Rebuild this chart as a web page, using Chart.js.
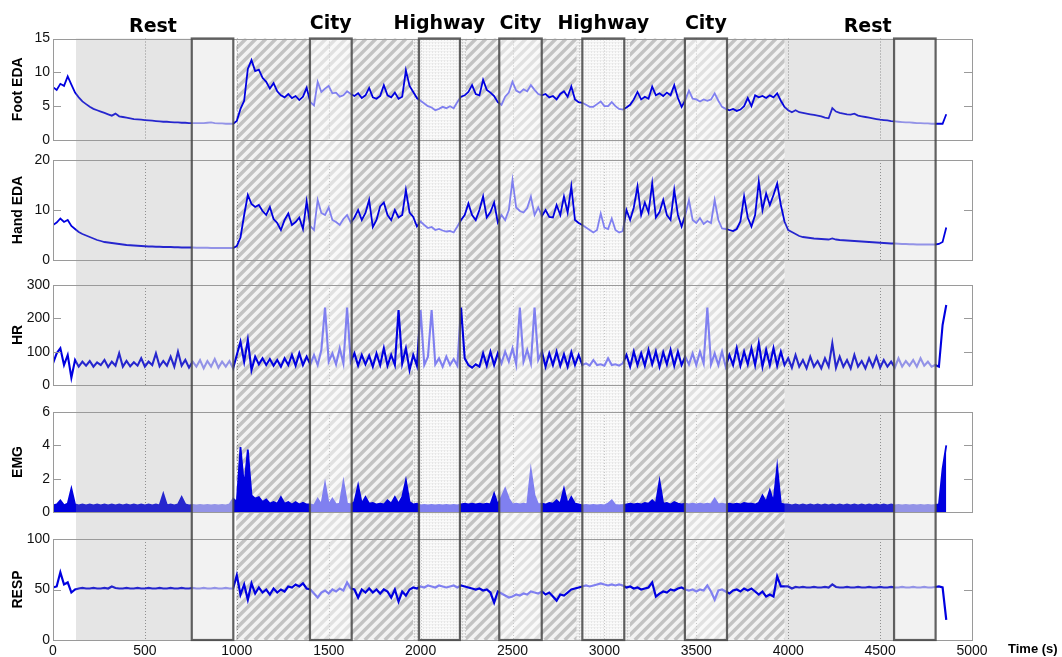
<!DOCTYPE html>
<html>
<head>
<meta charset="utf-8">
<script src="https://cdn.jsdelivr.net/npm/chart.js@4.4.1/dist/chart.umd.min.js"></script>
<style>
html,body{margin:0;padding:0;background:#ffffff;}
#wrap{position:relative;width:1062px;height:657px;}
</style>
</head>
<body>
<div id="wrap"><canvas id="chart" width="1062" height="657"></canvas></div>
<script>
const SAMPLE_STEP = 20; // seconds between samples

const footEDA = [
  7.8, 7.4, 8.3, 8.0, 9.4, 8.2, 7.0, 6.3, 5.7, 5.3,
  4.9, 4.6, 4.4, 4.2, 4.0, 3.8, 3.6, 3.9, 3.5, 3.4,
  3.3, 3.2, 3.1, 3.05, 3.0, 2.95, 2.9, 2.85, 2.8, 2.75,
  2.7, 2.7, 2.65, 2.6, 2.6, 2.55, 2.55, 2.5, 2.5, 2.5,
  2.5, 2.5, 2.55, 2.6, 2.5, 2.45, 2.45, 2.4, 2.4, 2.4,
  2.8, 4.6, 5.8, 10.5, 11.8, 10.2, 10.4, 9.2, 8.6, 7.6,
  8.4, 7.2, 6.6, 6.3, 6.8, 6.2, 6.5, 5.9, 6.4, 7.7,
  5.6, 5.1, 8.6, 7.1, 7.6, 8.0, 6.9, 7.0, 6.4, 6.6,
  7.2, 6.8, 6.5, 6.9, 6.2, 6.6, 7.7, 6.3, 6.1, 6.5,
  8.1, 6.6, 6.3, 7.0, 6.1, 6.4, 10.3, 8.0, 7.1, 6.2,
  5.8, 5.4, 5.0, 4.8, 4.4, 4.6, 4.9, 4.7, 5.0, 4.7,
  5.6, 6.4, 6.6, 7.1, 8.1, 6.8, 6.6, 8.9, 7.4, 7.0,
  6.5, 5.6, 5.2, 6.4, 7.0, 8.6, 7.3, 7.0, 7.5, 7.2,
  8.1, 7.4, 6.8, 6.6, 6.8, 6.3, 6.5, 6.0, 6.8, 7.2,
  6.4, 7.9, 6.0, 5.6, 5.5, 5.2, 4.9, 4.9, 5.3, 5.7,
  5.0, 5.0, 5.6, 5.0, 4.6, 4.5, 4.8, 5.2, 6.0, 7.1,
  6.0, 6.4, 6.1, 7.9, 6.6, 6.9, 6.5, 7.0, 6.6, 8.1,
  6.2, 4.9, 5.9, 7.3, 6.1, 6.0, 5.7, 6.0, 5.8, 6.0,
  6.9, 5.8, 4.9, 4.6, 4.4, 4.6, 4.3, 4.5, 5.0, 6.2,
  5.0, 6.6, 6.3, 6.5, 6.2, 6.6, 6.3, 6.9, 5.8, 4.9,
  4.4, 4.1, 4.4, 4.1, 4.0, 3.9, 3.8, 3.7, 3.6, 3.5,
  3.3, 3.2, 4.7, 4.2, 4.0, 3.9, 3.8, 3.75, 3.9, 3.6,
  3.5, 3.4, 3.3, 3.2, 3.1, 3.0, 2.95, 2.9, 2.8, 2.75,
  2.7, 2.65, 2.6, 2.6, 2.55, 2.5, 2.5, 2.45, 2.45, 2.4,
  2.4, 2.4, 2.4, 3.8
];

const handEDA = [
  7.0, 7.5, 8.3, 7.6, 8.0, 6.8, 6.2, 5.6, 5.2, 4.9,
  4.6, 4.3, 4.0, 3.8, 3.6, 3.5, 3.4, 3.3, 3.2, 3.1,
  3.0, 2.95, 2.9, 2.85, 2.8, 2.75, 2.7, 2.7, 2.65, 2.65,
  2.6, 2.6, 2.6, 2.55, 2.55, 2.5, 2.5, 2.5, 2.5, 2.45,
  2.45, 2.45, 2.45, 2.4, 2.4, 2.4, 2.4, 2.4, 2.4, 2.4,
  2.8, 4.5, 9.0, 13.0, 11.2, 10.6, 11.0, 9.8, 9.0, 10.6,
  8.2, 7.4, 6.0, 8.0, 9.3, 7.0, 7.6, 8.5, 6.2, 11.7,
  6.8, 6.0, 12.0, 9.4, 9.0, 10.5, 8.0, 7.6, 7.0, 8.2,
  9.0, 7.5, 8.5, 10.0, 8.0, 9.4, 12.0, 6.6, 8.0, 10.7,
  11.5, 9.0, 8.0, 10.0, 8.5, 9.0, 14.0, 9.5, 8.6, 6.7,
  7.7, 7.0, 6.4, 6.6, 6.0, 6.2, 5.9, 5.7, 5.8, 5.5,
  6.7, 8.0, 9.0, 11.3, 9.0, 8.0, 10.0, 12.7, 8.5, 9.6,
  11.5, 7.5, 9.0, 8.0, 10.0, 16.0, 10.5, 9.8, 9.5, 10.4,
  12.7, 9.0, 10.5, 8.8, 10.0, 8.6, 8.5, 11.0, 9.0, 12.7,
  9.5, 14.7, 8.0, 7.4, 7.0, 6.5, 6.0, 5.5, 6.0, 9.3,
  6.5, 6.2, 8.3, 6.0, 5.5, 5.8, 10.0, 8.0, 10.5, 14.7,
  9.0, 11.5, 9.5, 15.3, 8.5, 9.6, 12.0, 9.0, 8.0, 14.0,
  9.0, 6.7, 9.0, 12.0, 8.0, 7.4, 8.4, 7.2, 7.8, 7.4,
  12.0, 8.0, 6.3, 6.2, 6.0, 5.8, 6.2, 7.7, 12.7, 8.5,
  6.7, 9.0, 15.7, 10.0, 13.3, 11.0, 13.0, 15.3, 11.0, 7.7,
  6.0, 5.6, 5.2, 4.8, 4.6, 4.5, 4.4, 4.3, 4.25, 4.2,
  4.15, 4.1, 4.3, 4.1, 4.0, 3.95, 3.9, 3.85, 3.8, 3.75,
  3.7, 3.65, 3.6, 3.55, 3.5, 3.45, 3.4, 3.35, 3.3, 3.3,
  3.25, 3.2, 3.2, 3.15, 3.15, 3.1, 3.1, 3.1, 3.1, 3.1,
  3.1, 3.2, 3.6, 6.5
];

const heartRate = [
  65, 95, 110, 60, 90, 22, 75, 55, 70, 58,
  72, 55, 68, 60, 75, 54, 70, 58, 95, 55,
  72, 56, 68, 58, 80, 55, 70, 60, 95, 56,
  72, 58, 85, 55, 100, 58, 75, 52, 70, 55,
  75, 50, 72, 55, 78, 52, 70, 55, 72, 50,
  90, 130, 70, 135, 45, 85, 62, 80, 60, 78,
  58, 75, 55, 80, 60, 90, 58, 95, 60, 85,
  62, 90, 60, 105, 232, 70, 95, 62, 110, 65,
  232, 70, 95, 58, 90, 62, 88, 55, 95, 60,
  110, 58, 90, 60, 225, 65, 110, 45, 90, 58,
  225, 60, 85, 225, 62, 80, 55, 85, 60, 78,
  58, 232, 80, 60, 52, 62, 55, 95, 58, 100,
  60, 95, 65, 100, 70, 110, 62, 232, 70, 105,
  65, 232, 75, 100, 55, 95, 60, 100, 58, 92,
  55, 98, 60, 90, 60, 65, 58, 75, 60, 62,
  58, 80, 60, 62, 58, 65, 90, 55, 100, 60,
  95, 58, 105, 62, 100, 55, 98, 62, 105, 58,
  100, 60, 85, 62, 95, 60, 100, 65, 232, 62,
  95, 60, 100, 55, 90, 60, 110, 58, 100, 62,
  110, 60, 125, 55, 105, 60, 110, 58, 100, 60,
  80, 52, 90, 55, 75, 50, 85, 55, 72, 50,
  80, 55, 125, 52, 85, 55, 75, 50, 90, 55,
  72, 50, 80, 55, 85, 52, 75, 55, 70, 52,
  80, 55, 72, 58, 75, 55, 80, 58, 70, 55,
  60, 55, 180, 240
];

const emg = [
  0.4, 0.45, 0.7, 0.4, 0.5, 1.4, 0.45, 0.4, 0.45, 0.4,
  0.45, 0.4, 0.45, 0.4, 0.45, 0.4, 0.45, 0.4, 0.45, 0.4,
  0.45, 0.4, 0.45, 0.4, 0.45, 0.4, 0.45, 0.4, 0.45, 0.4,
  1.1, 0.4, 0.45, 0.4, 0.45, 0.9, 0.45, 0.4, 0.42, 0.4,
  0.42, 0.4, 0.42, 0.4, 0.42, 0.4, 0.42, 0.4, 0.45, 0.8,
  0.6, 3.9, 1.5, 3.75, 1.0, 0.8, 0.9, 0.6, 0.75, 0.5,
  0.6, 0.5, 0.9, 0.5, 0.6, 0.45, 0.6, 0.45, 0.55, 0.45,
  0.45, 0.4, 0.8, 0.45, 1.7, 0.45, 0.8, 0.45, 0.5, 1.8,
  0.5, 0.45, 0.6, 1.6, 0.5, 0.9, 0.5, 0.55, 0.45, 0.5,
  0.45, 0.7, 0.5, 0.9, 0.5, 0.9, 1.9, 0.6, 0.45, 0.5,
  0.4, 0.42, 0.4, 0.42, 0.4, 0.42, 0.4, 0.42, 0.4, 0.42,
  0.4, 0.45, 0.5, 0.45, 0.5, 0.45, 0.5, 0.45, 0.5, 0.45,
  1.1, 0.45, 0.9, 1.4, 0.8, 0.45, 0.5, 0.45, 0.5, 0.45,
  2.5, 1.0, 0.45, 0.5, 0.45, 0.55, 0.5, 0.7, 0.5, 1.4,
  0.5, 0.9, 0.5, 0.45, 0.4, 0.42, 0.4, 0.42, 0.4, 0.42,
  0.4, 0.5, 0.7, 0.42, 0.4, 0.42, 0.45, 0.5, 0.45, 0.5,
  0.45, 0.55, 0.5, 0.7, 0.5, 1.85, 0.5, 0.55, 0.45, 0.6,
  0.5, 0.45, 0.5, 0.45, 0.5, 0.45, 0.5, 0.45, 0.5, 0.45,
  0.8, 0.45, 0.5, 0.45, 0.5, 0.45, 0.5, 0.45, 0.55, 0.5,
  0.5, 0.45, 0.55, 1.0, 0.6, 1.3, 0.6, 2.7, 0.5, 0.45,
  0.45, 0.4, 0.45, 0.4, 0.45, 0.4, 0.45, 0.4, 0.45, 0.4,
  0.45, 0.4, 0.45, 0.4, 0.45, 0.4, 0.45, 0.4, 0.45, 0.4,
  0.45, 0.4, 0.45, 0.4, 0.45, 0.4, 0.45, 0.4, 0.45, 0.4,
  0.42, 0.4, 0.42, 0.4, 0.42, 0.4, 0.42, 0.4, 0.42, 0.4,
  0.42, 0.45, 2.6, 4.0
];

const resp = [
  52, 53, 67, 55, 57, 47, 50, 51, 51.5, 51,
  51, 51.5, 51, 51, 51.5, 51, 53, 51.5, 51, 51,
  51.5, 51, 51, 51.5, 51, 51, 51.5, 51, 51, 51.5,
  51, 51, 51.5, 51, 51, 51.5, 51, 51, 51.5, 51,
  51, 51.5, 51, 51, 51.5, 51, 51, 51.5, 51, 51,
  64, 45, 55, 40, 56, 46, 52, 47, 50, 45,
  51, 47, 50, 48, 53, 52, 55, 53, 56, 51,
  50, 46, 42, 47, 49, 46, 50, 48, 51, 49,
  57, 51, 50, 42, 50, 47, 51, 47, 50, 46,
  50, 48, 42, 50, 38, 48, 44, 50, 52, 51,
  53, 52, 54, 53, 52, 54, 53, 52, 53, 54,
  52, 54, 53, 52, 51, 50, 51, 49, 50, 47,
  37, 48, 46, 44, 42, 43, 45, 44, 46, 45,
  48, 47, 46, 48, 45, 47, 43, 39, 45, 44,
  47, 50, 51, 52, 53, 54, 53, 54, 55, 56,
  55, 54, 55, 54, 55, 54, 52, 53, 51, 52,
  50, 51, 52, 57, 43, 46, 48, 47, 50, 49,
  51, 52, 50, 49, 50, 48, 50, 49, 54, 48,
  40, 49, 50, 48, 46, 49, 50, 48, 51, 49,
  51, 48, 45, 48, 43, 45, 43, 63, 53, 53,
  53, 51, 52.5, 52, 52.5, 52, 52, 52.5, 52, 52,
  52.5, 52, 55, 52.5, 52, 52, 52.5, 52, 52, 52.5,
  52, 52, 52.5, 52, 52, 52.5, 52, 52, 52.5, 52,
  52, 52.5, 52, 52, 52.5, 52, 52, 52.5, 52, 52,
  52.5, 53, 52, 20
];

// Experiment phases (seconds)
const restSpans = [[125, 981], [3980, 4802]];
const drivingSpan = [997, 3980];
const highwaySpans = [[1959, 2247], [2849, 3139]];
const markedSpans = [[755, 981], [1398, 1625], [1991, 2214], [2428, 2659], [2880, 3108], [3438, 3667], [4576, 4802]];
const phaseNames = ['Rest', 'City', 'Highway', 'City', 'Highway', 'City', 'Rest'];
const phaseNameTimes = [544, 1511, 2102, 2543, 2994, 3552, 4432];

// Axis ticks
const xTickStep = 500;
const panelNames = ['Foot EDA', 'Hand EDA', 'HR', 'EMG', 'RESP'];
const panelMax = [15, 20, 300, 6, 100];
const panelTickStep = [5, 10, 100, 2, 50];

// ---------------- CHART ----------------
const time = footEDA.map((_, i) => i * SAMPLE_STEP);
const seriesList = [footEDA, handEDA, heartRate, emg, resp];

const LINE_BLUE = '#0000e0';
const TICK_FONT = {family: '"Liberation Sans", Arial, sans-serif', size: 14};
const panelHeights = [101.5, 100, 100, 100, 101];
const gapHeights = [20, 25, 27, 27]; // gap i lies between panel i and panel i+1
const lineWidths = [1.8, 1.8, 2.1, 1.8, 2.2];

const scales = {
  x: {
    type: 'linear', position: 'bottom', min: 0, max: 5000,
    ticks: {stepSize: xTickStep, font: TICK_FONT, color: '#111', padding: 3, maxRotation: 0,
      autoSkip: false, callback: v => String(v)},
    grid: {display: false, drawTicks: false},
    border: {display: false},
    afterFit: s => { s.height = 17; }
  }
};
// stacked scales are laid out bottom-up in definition order
for (let i = panelNames.length - 1; i >= 0; i--) {
  scales['y' + i] = {
    type: 'linear', position: 'left', stack: 'panels', stackWeight: panelHeights[i],
    min: 0, max: panelMax[i],
    ticks: {stepSize: panelTickStep[i], font: TICK_FONT, color: '#111', padding: 3,
      autoSkip: false, callback: v => String(v)},
    grid: {display: false, drawTicks: false},
    border: {display: false},
    title: {display: true, text: panelNames[i], color: '#000',
      font: {family: '"Liberation Sans", Arial, sans-serif', size: 14, weight: 'bold'},
      padding: {top: 10, bottom: 0}},
    afterFit: s => { s.width = 53; }
  };
  if (i > 0) {
    scales['gap' + (i - 1)] = {
      type: 'linear', position: 'left', stack: 'panels', stackWeight: gapHeights[i - 1],
      display: false, afterFit: s => { s.width = 0; }
    };
  }
}

const datasets = seriesList.map((vals, i) => ({
  label: panelNames[i],
  data: time.map((t, k) => ({x: t, y: vals[k]})),
  xAxisID: 'x', yAxisID: 'y' + i,
  borderColor: LINE_BLUE, backgroundColor: LINE_BLUE,
  borderWidth: lineWidths[i], pointRadius: 0, tension: 0,
  fill: panelNames[i] === 'EMG' ? 'origin' : false
}));

function makeHighwayPattern(ctx) {
  const c = document.createElement('canvas');
  c.width = 3; c.height = 3;
  const g = c.getContext('2d');
  g.fillStyle = '#f4f4f4'; g.fillRect(0, 0, 3, 3);
  g.fillStyle = '#cfcfcf'; g.fillRect(0, 0, 1, 2);
  g.fillStyle = '#e2e2e2'; g.fillRect(1, 0, 2, 1);
  return ctx.createPattern(c, 'repeat');
}

const phasePlugin = {
  id: 'phases',
  beforeDatasetsDraw(chart) {
    const {ctx, chartArea: a, scales: sc} = chart;
    const px = v => sc.x.getPixelForValue(v);
    const H = a.bottom - a.top;
    ctx.save();
    // hatched driving area (excluding highway bands)
    const d0 = px(drivingSpan[0]), d1 = px(drivingSpan[1]);
    ctx.beginPath();
    ctx.rect(d0, a.top, d1 - d0, H);
    highwaySpans.forEach(([s, e]) => ctx.rect(px(s), a.top, px(e) - px(s), H));
    ctx.save();
    ctx.clip('evenodd');
    ctx.fillStyle = '#f3f3f3';
    ctx.fillRect(d0, a.top, d1 - d0, H);
    ctx.strokeStyle = '#c3c3c3';
    ctx.lineWidth = 3.4;
    ctx.beginPath();
    for (let c = d0 - H - 20; c < d1 + 20; c += 10) {
      ctx.moveTo(c, a.bottom);
      ctx.lineTo(c + H, a.top);
    }
    ctx.stroke();
    ctx.restore();
    // highway texture
    ctx.fillStyle = makeHighwayPattern(ctx);
    highwaySpans.forEach(([s, e]) => ctx.fillRect(px(s), a.top, px(e) - px(s), H));
    // dotted grid lines inside each panel
    ctx.strokeStyle = '#8c8c8c';
    ctx.lineWidth = 1;
    ctx.setLineDash([1, 2]);
    panelNames.forEach((_, i) => {
      const ys = sc['y' + i];
      const top = ys.getPixelForValue(panelMax[i]), bot = ys.getPixelForValue(0);
      for (let v = xTickStep; v < 5000; v += xTickStep) {
        const x = Math.round(px(v)) + 0.5;
        ctx.beginPath(); ctx.moveTo(x, top); ctx.lineTo(x, bot); ctx.stroke();
      }
    });
    ctx.setLineDash([]);
    ctx.restore();
  },
  afterDatasetsDraw(chart) {
    const {ctx, chartArea: a, scales: sc} = chart;
    const px = v => sc.x.getPixelForValue(v);
    const H = a.bottom - a.top;
    ctx.save();
    // rest shading
    ctx.fillStyle = 'rgba(150,150,150,0.25)';
    restSpans.forEach(([s, e]) => ctx.fillRect(px(s), a.top, px(e) - px(s), H));
    // highlighted boxes (semi-transparent white)
    ctx.fillStyle = 'rgba(255,255,255,0.5)';
    markedSpans.forEach(([s, e]) => ctx.fillRect(px(s), a.top, px(e) - px(s), H));
    // panel frames and inward ticks
    ctx.strokeStyle = '#9a9a9a';
    ctx.lineWidth = 1;
    panelNames.forEach((_, i) => {
      const ys = sc['y' + i];
      const top = Math.round(ys.getPixelForValue(panelMax[i])) + 0.5;
      const bot = Math.round(ys.getPixelForValue(0)) + 0.5;
      ctx.strokeRect(Math.round(a.left) + 0.5, top, Math.round(a.right - a.left), bot - top);
      ctx.beginPath();
      ys.ticks.forEach(t => {
        const y = Math.round(ys.getPixelForValue(t.value)) + 0.5;
        ctx.moveTo(a.left, y); ctx.lineTo(a.left + 8, y);
        ctx.moveTo(a.right - 8, y); ctx.lineTo(a.right, y);
      });
      ctx.stroke();
    });
    // box outlines
    ctx.strokeStyle = 'rgba(70,70,70,0.85)';
    ctx.lineWidth = 2.2;
    markedSpans.forEach(([s, e]) => ctx.strokeRect(px(s), a.top, px(e) - px(s), H));
    // phase names
    ctx.fillStyle = '#000';
    ctx.textAlign = 'center';
    ctx.textBaseline = 'alphabetic';
    ctx.font = 'bold 19px "DejaVu Sans", Verdana, sans-serif';
    phaseNames.forEach((n, i) => {
      ctx.fillText(n, px(phaseNameTimes[i]), n === 'Rest' ? 31.5 : 28.5);
    });
    // x axis title
    ctx.font = 'bold 13px "Liberation Sans", Arial, sans-serif';
    ctx.textAlign = 'left';
    ctx.fillText('Time (s)', 1008, 652.5);
    ctx.restore();
  }
};

new Chart(document.getElementById('chart'), {
  type: 'line',
  data: {datasets},
  options: {
    responsive: false, animation: false, devicePixelRatio: 1,
    layout: {padding: {top: 38.5, right: 90, left: 0, bottom: 0}},
    plugins: {legend: {display: false}, tooltip: {enabled: false}},
    scales
  },
  plugins: [phasePlugin]
});
</script>
</body>
</html>
